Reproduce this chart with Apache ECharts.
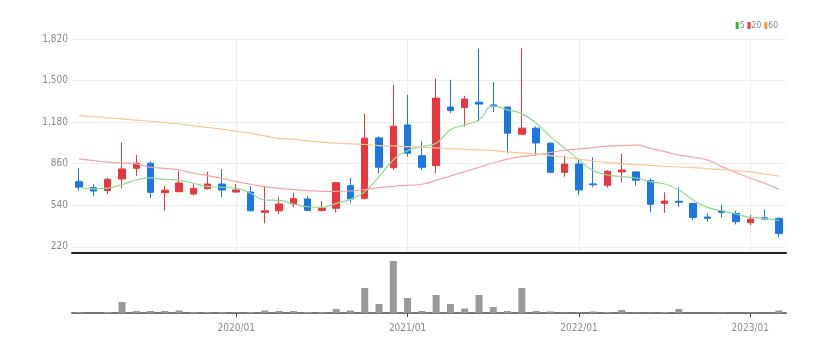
<!DOCTYPE html>
<html><head><meta charset="utf-8">
<script src="https://cdn.jsdelivr.net/npm/echarts@6/dist/echarts.min.js"></script>
<style>html,body{margin:0;padding:0;background:#fff}#c{width:839px;height:352px}</style>
</head><body><div id="c"></div>
<script>
const months = ['2019/02','2019/03','2019/04','2019/05','2019/06','2019/07','2019/08','2019/09','2019/10','2019/11','2019/12',
'2020/01','2020/02','2020/03','2020/04','2020/05','2020/06','2020/07','2020/08','2020/09','2020/10','2020/11','2020/12',
'2021/01','2021/02','2021/03','2021/04','2021/05','2021/06','2021/07','2021/08','2021/09','2021/10','2021/11','2021/12',
'2022/01','2022/02','2022/03','2022/04','2022/05','2022/06','2022/07','2022/08','2022/09','2022/10','2022/11','2022/12',
'2023/01','2023/02','2023/03'];
const opens  = [722,676,653,743,825,864,637,645,627,668,704,642,642,486,498,550,589,501,517,691,594,1059,830,1159,922,845,1296,1293,1334,1313,1296,1087,1134,1018,794,858,705,694,797,797,730,555,571,555,450,496,478,406,445,440];
const closes = [679,650,740,820,864,640,656,712,671,704,658,658,498,498,550,591,501,517,714,589,1057,833,1149,941,833,1365,1269,1358,1319,1300,1095,1134,1020,794,858,658,698,802,812,733,548,573,563,447,440,486,414,434,434,324];
const lows   = [653,612,627,671,766,596,498,640,617,663,602,637,494,401,473,525,496,491,486,560,586,787,812,915,812,787,1249,1146,1185,1257,941,1087,922,787,761,620,679,676,717,691,486,483,529,427,414,447,393,388,427,293];
const highs  = [825,702,753,1023,928,879,689,807,702,797,818,704,689,689,602,637,612,571,714,750,1244,1070,1468,1390,1033,1516,1506,1383,1743,1488,1296,1748,1146,1025,922,895,910,810,936,802,748,640,679,555,478,542,498,465,509,445];
const ma5  = [679,666,672,700,735,751,740,733,710,684,679,671,633,581,578,550,529,524,555,586,645,761,889,961,992,1018,1121,1159,1198,1306,1275,1244,1172,1069,979,889,807,774,761,750,722,704,658,581,524,498,473,447,440,421];
const ma20 = [897,884,872,866,858,833,825,812,787,768,748,722,702,684,671,661,653,648,648,650,661,676,686,694,702,732,766,799,833,866,895,915,928,946,964,974,984,995,1000,1003,979,953,928,910,889,838,792,748,710,663];
const ma60 = [1231,1223,1213,1206,1195,1187,1177,1167,1151,1139,1126,1110,1095,1074,1054,1049,1036,1026,1018,1013,1008,1000,997,992,987,982,977,971,966,961,951,943,936,923,910,895,881,869,861,853,848,840,835,830,823,815,807,797,781,764];
const volumes = [1000,0,1000,11000,2000,2000,2000,2500,1000,1000,1000,500,1000,2500,2000,2000,1000,1000,4000,2500,25000,9000,52000,15000,2000,18000,9000,4500,18000,6000,2000,25000,2000,1500,500,500,1500,1000,3000,500,500,1000,4000,0,0,500,0,500,0,2500];
const priceTicks = [220,540,860,1180,1500,1820];

const candles = opens.map((o, i) => [o, closes[i], lows[i], highs[i]]);
const isJan = (i, v) => String(v).slice(5) === '01';
const FONT = '"Liberation Sans Narrow","DejaVu Sans Condensed",sans-serif';

const chart = echarts.init(document.getElementById('c'), null, {renderer: 'canvas'});
chart.setOption({
  animation: false,
  backgroundColor: '#fff',
  legend: {
    right: 56, top: 16, icon: 'rect', itemWidth: 3, itemHeight: 7, itemGap: 3,
    textStyle: {fontSize: 8.5, color: '#888', fontFamily: FONT, padding: [0, 0, 0, -4]},
    itemStyle: {opacity: 1},
    data: ['5','20','60']
  },
  grid: [
    {left: 72, right: 53, top: 39, bottom: 99},
    {left: 72, right: 53, top: 258, bottom: 39}
  ],
  xAxis: [
    {type: 'category', gridIndex: 0, data: months, boundaryGap: true,
     axisLine: {lineStyle: {color: '#222', width: 2}}, axisTick: {show: false}, axisLabel: {show: false},
     splitLine: {show: true, interval: isJan, alignWithLabel: true, lineStyle: {color: '#eee'}}},
    {type: 'category', gridIndex: 1, data: months, boundaryGap: true,
     axisLine: {lineStyle: {color: '#777', width: 2}},
     axisTick: {show: true, interval: isJan, alignWithLabel: true, length: 4, lineStyle: {color: '#444'}},
     axisLabel: {interval: isJan, color: '#888', fontSize: 10, fontFamily: FONT, margin: 10},
     splitLine: {show: false}}
  ],
  yAxis: [
    {type: 'value', gridIndex: 0, min: 173, max: 1820,
     axisLine: {show: false},
     axisTick: {show: false, customValues: priceTicks},
     axisLabel: {customValues: priceTicks, color: '#888', fontSize: 10, fontFamily: FONT, margin: 4,
       formatter: v => v.toLocaleString('en-US')},
     splitLine: {show: true, lineStyle: {color: '#eee'}}},
    {type: 'value', gridIndex: 1, min: 0, max: 55000, show: false, splitLine: {show: false}}
  ],
  series: [
    {type: 'candlestick', name: 'price', xAxisIndex: 0, yAxisIndex: 0, data: candles, barWidth: 7,
     itemStyle: {color: '#e8383d', color0: '#1b78e2', borderColor: '#e8383d', borderColor0: '#1b78e2', borderWidth: 1}},
    {type: 'line', name: '5', xAxisIndex: 0, yAxisIndex: 0, data: ma5, smooth: true, symbol: 'none',
     color: '#2db82d', lineStyle: {color: '#8fd88f', width: 1.2}},
    {type: 'line', name: '20', xAxisIndex: 0, yAxisIndex: 0, data: ma20, smooth: true, symbol: 'none',
     color: '#e8383d', lineStyle: {color: '#f4a3a6', width: 1.2}},
    {type: 'line', name: '60', xAxisIndex: 0, yAxisIndex: 0, data: ma60, smooth: true, symbol: 'none',
     color: '#f39a35', lineStyle: {color: '#f8c795', width: 1.2}},
    {type: 'bar', name: 'volume', xAxisIndex: 1, yAxisIndex: 1, data: volumes, barWidth: 7,
     itemStyle: {color: '#999'}}
  ]
});
</script>
</body></html>
